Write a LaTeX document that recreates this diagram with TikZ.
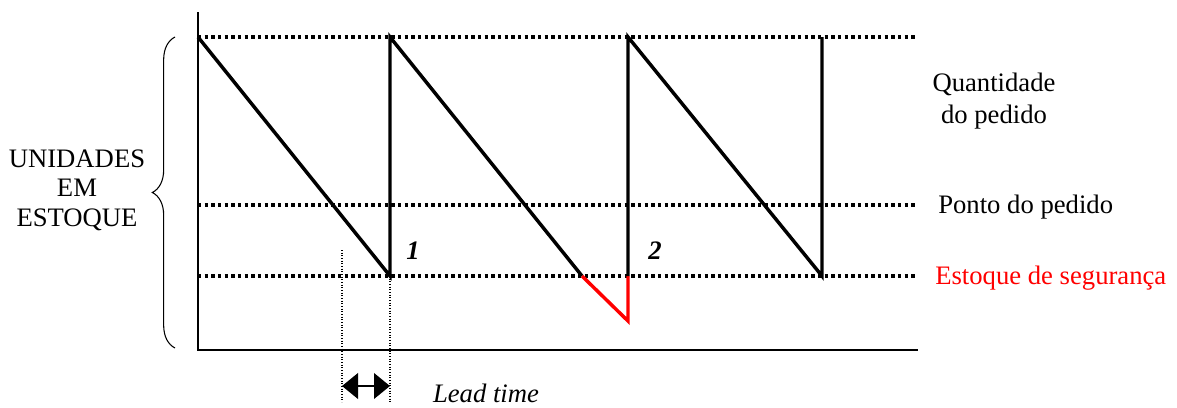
\documentclass[tikz,border=0pt]{standalone}
\usepackage{fontspec}
\setmainfont{Liberation Serif}
\usetikzlibrary{arrows.meta,decorations.pathreplacing}

\begin{document}
\begin{tikzpicture}[
  x={(0.75pt,0pt)},
  y={(0pt,-0.75pt)},
  line join=miter,
  axis/.style={draw=black,line width=1.5pt},
  stock/.style={draw=black,line width=2.6pt},
  shortage/.style={draw=red,line width=2.6pt},
  guide/.style={draw=black,line width=2.6pt,dash pattern=on 2.6pt off 2.4pt},
  leadline/.style={draw=black,line width=0.8pt,dash pattern=on 0.8pt off 1.2pt},
  leadarrow/.style={draw=black,line width=2.2pt,{Triangle[length=12pt,width=19pt]}-{Triangle[length=12pt,width=19pt]}},
  txt/.style={inner sep=0pt,font=\fontsize{20}{22}\selectfont}
]
  \useasboundingbox (0,0) rectangle (1177,407);

  % Axes.
  \coordinate (o) at (198,350);
  \coordinate (ytop) at (198,12);
  \coordinate (xend) at (918,350);
  \draw[axis] (ytop) -- (o) -- (xend);

  % Reference levels.
  \coordinate (q0) at (198,37);
  \coordinate (q1) at (915,37);
  \coordinate (p0) at (198,205);
  \coordinate (p1) at (915,205);
  \coordinate (s0) at (198,276);
  \coordinate (s1) at (915,276);
  \draw[guide] (q0) -- (q1);
  \draw[guide] (p0) -- (p1);
  \draw[guide] (s0) -- (s1);

  % Stock curve.
  \coordinate (a0) at (198,37);
  \coordinate (a1) at (390,276);
  \coordinate (a2) at (390,37);
  \coordinate (a3) at (582,276);
  \coordinate (a4) at (628,321);
  \coordinate (a5) at (628,276);
  \coordinate (a6) at (628,37);
  \coordinate (a7) at (822,276);
  \coordinate (a8) at (822,37);
  \draw[stock] (a0) -- (a1) -- (a2) -- (a3);
  \draw[shortage] (a3) -- (a4) -- (a5);
  \draw[stock] (a5) -- (a6) -- (a7) -- (a8);

  \node[txt,font=\fontsize{20}{22}\selectfont\bfseries\itshape] (n1) at (413,251) {1};
  \node[txt,font=\fontsize{20}{22}\selectfont\bfseries\itshape] (n2) at (655,251) {2};

  % Lead time.
  \coordinate (l0) at (342,250);
  \coordinate (l1) at (342,402);
  \coordinate (l2) at (390,402);
  \draw[leadline] (l0) -- (l1);
  \draw[leadline] (a1) -- (l2);
  \coordinate (la) at (342,386);
  \coordinate (lb) at (390,386);
  \draw[leadarrow] (la) -- (lb);
  \node[txt,font=\fontsize{20}{22}\selectfont\itshape] (lead) at (486,393) {Lead time};

  % Left brace and title.
  \coordinate (b0) at (175,348);
  \coordinate (b1) at (175,37);
  \draw[line width=0.8pt,decorate,decoration={brace,amplitude=17pt}] (b0) -- (b1);
  \node[txt,align=center] (units) at (77,190) {UNIDADES\\EM\\ESTOQUE};

  % Right labels.
  \node[txt,align=center,font=\fontsize{20}{24}\selectfont] (qty) at (994,101) {Quantidade\\do pedido};
  \node[txt,anchor=west] (reorder) at (938,207) {Ponto do pedido};
  \node[txt,anchor=west,text=red] (safety) at (935,278) {Estoque de segurança};
\end{tikzpicture}
\end{document}
